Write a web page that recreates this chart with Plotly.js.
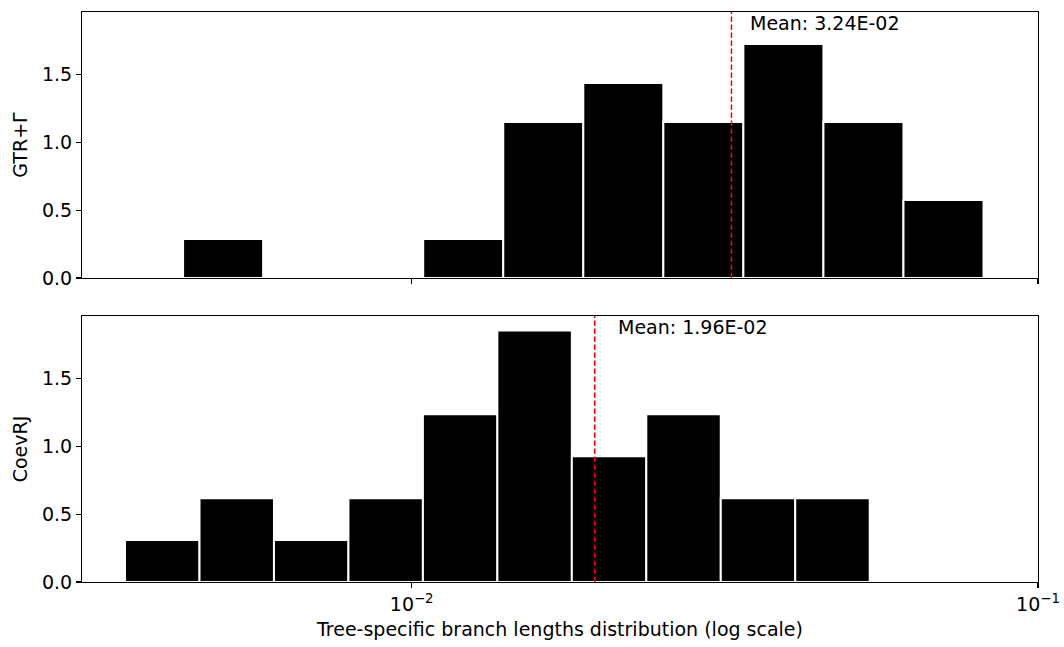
<!DOCTYPE html>
<html>
<head>
<meta charset="utf-8">
<script src="https://cdn.plot.ly/plotly-3.0.1.min.js"></script>
<style>html,body{margin:0;padding:0;background:#fff;}#chart{width:1064px;height:647px;}</style>
</head>
<body>
<div id="chart"></div>
<script>
// Histogram data (x values are log10 of branch length)
const gtrBinStart = -2.365;
const gtrBinWidth = 0.1278;
const gtrDensity = [0.287, 0, 0, 0.287, 1.149, 1.437, 1.149, 1.724, 1.149, 0.575];
const gtrMean = 0.0324;

const coevBinStart = -2.4577;
const coevBinWidth = 0.1189;
const coevDensity = [0.309, 0.618, 0.309, 0.618, 1.236, 1.854, 0.927, 1.236, 0.618, 0.618];
const coevMean = 0.0196;

const xTickVals = [-2, -1];
const xTickText = ['10<sup>\u22122</sup>', '10<sup>\u22121</sup>'];
const yTickVals = [0, 0.5, 1.0, 1.5];

function centers(start, w, n) {
  const c = [];
  for (let i = 0; i < n; i++) c.push(start + (i + 0.5) * w);
  return c;
}

const FS = 19;
function mkFont() { return {family: 'DejaVu Sans', size: FS, color: '#000000'}; }

const traces = [
  {
    type: 'bar', x: centers(gtrBinStart, gtrBinWidth, gtrDensity.length), y: gtrDensity,
    width: gtrDensity.map(() => gtrBinWidth), xaxis: 'x', yaxis: 'y',
    marker: {color: '#000', line: {color: '#fff', width: 2}}, showlegend: false, hoverinfo: 'skip'
  },
  {
    type: 'bar', x: centers(coevBinStart, coevBinWidth, coevDensity.length), y: coevDensity,
    width: coevDensity.map(() => coevBinWidth), xaxis: 'x2', yaxis: 'y2',
    marker: {color: '#000', line: {color: '#fff', width: 2}}, showlegend: false, hoverinfo: 'skip'
  }
];

const xRange = [-2.5264, -1.0];
const yRange = [0, 1.96];

function axisCommon() {
  return {
    showline: true, linecolor: '#000', linewidth: 1.1, mirror: true,
    ticks: 'outside', ticklen: 5, tickwidth: 1.1, tickcolor: '#000',
    showgrid: false, zeroline: false, tickfont: mkFont()
  };
}

function fmtMean(v) {
  const e = Math.floor(Math.log10(v));
  const m = v / Math.pow(10, e);
  const es = (e < 0 ? '-' : '+') + String(Math.abs(e)).padStart(2, '0');
  return 'Mean: ' + m.toFixed(2) + 'E' + es;
}

const layout = {
  width: 1064, height: 647,
  margin: {l: 82, r: 26, t: 12, b: 65},
  paper_bgcolor: '#fff', plot_bgcolor: '#fff',
  font: mkFont(),
  bargap: 0,
  showlegend: false,
  xaxis: Object.assign(axisCommon(), {
    domain: [0, 1], anchor: 'y', range: xRange, tickmode: 'array',
    tickvals: xTickVals, ticktext: xTickText, showticklabels: false
  }),
  yaxis: Object.assign(axisCommon(), {
    domain: [304 / 570, 1], anchor: 'x', range: yRange, tickmode: 'array',
    tickvals: yTickVals, tickformat: '.1f',
    title: {text: 'GTR+\u0393', font: mkFont(), standoff: 9}
  }),
  xaxis2: Object.assign(axisCommon(), {
    domain: [0, 1], anchor: 'y2', range: xRange, tickmode: 'array',
    tickvals: xTickVals, ticktext: xTickText,
    title: {text: 'Tree-specific branch lengths distribution (log scale)', font: mkFont(), standoff: 8}
  }),
  yaxis2: Object.assign(axisCommon(), {
    domain: [0, 266 / 570], anchor: 'x2', range: yRange, tickmode: 'array',
    tickvals: yTickVals, tickformat: '.1f',
    title: {text: 'CoevRJ', font: mkFont(), standoff: 9}
  }),
  shapes: [
    {type: 'line', xref: 'x', yref: 'y domain', x0: Math.log10(gtrMean), x1: Math.log10(gtrMean), y0: 0, y1: 1,
     line: {color: '#ff0000', width: 1.5, dash: '5.5px,2.5px'}},
    {type: 'line', xref: 'x2', yref: 'y2 domain', x0: Math.log10(coevMean), x1: Math.log10(coevMean), y0: 0, y1: 1,
     line: {color: '#ff0000', width: 1.5, dash: '5.5px,2.5px'}}
  ],
  annotations: [
    {xref: 'x', yref: 'y domain', x: Math.log10(gtrMean), y: 1, xanchor: 'left', yanchor: 'middle',
     xshift: 17, yshift: -11, showarrow: false, text: fmtMean(gtrMean), font: mkFont()},
    {xref: 'x2', yref: 'y2 domain', x: Math.log10(coevMean), y: 1, xanchor: 'left', yanchor: 'middle',
     xshift: 21, yshift: -11, showarrow: false, text: fmtMean(coevMean), font: mkFont()}
  ]
};

Plotly.newPlot('chart', traces, layout, {displayModeBar: false, staticPlot: true});
</script>
</body>
</html>
